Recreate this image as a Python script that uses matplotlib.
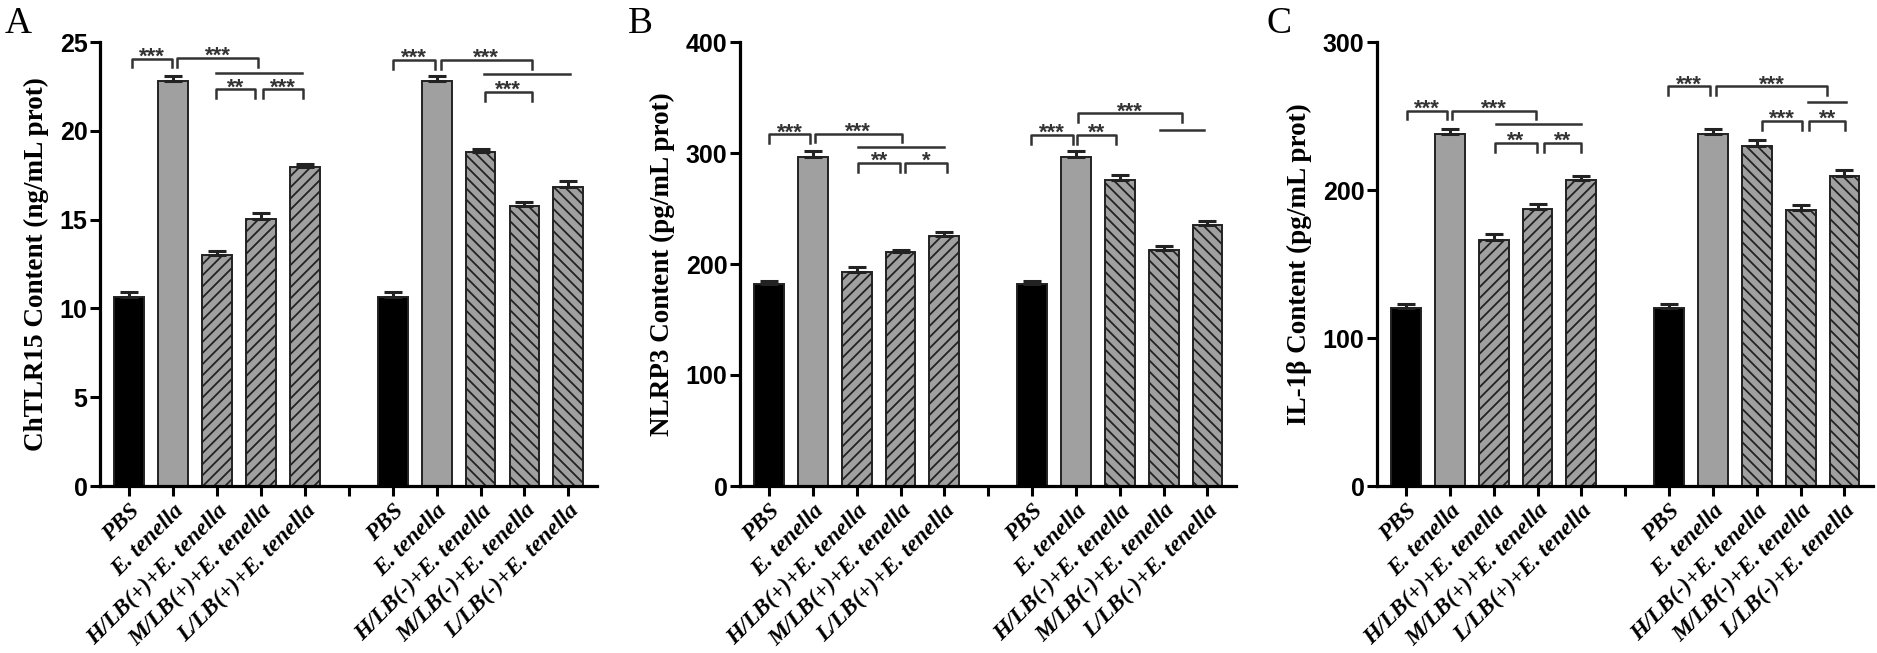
import matplotlib
matplotlib.use("Agg")
import matplotlib.pyplot as plt

plt.rcParams['hatch.linewidth'] = 1.3

labels = ["PBS", "E. tenella", "H/LB(+)+E. tenella", "M/LB(+)+E. tenella",
          "L/LB(+)+E. tenella", "",
          "PBS", "E. tenella", "H/LB(-)+E. tenella", "M/LB(-)+E. tenella",
          "L/LB(-)+E. tenella"]
pos = [0, 1, 2, 3, 4, 6, 7, 8, 9, 10]

tlr15 = [10.65, 22.8, 13.0, 15.05, 17.95, 10.65, 22.8, 18.8, 15.75, 16.85]
tlr15_err = [0.25, 0.3, 0.23, 0.33, 0.2, 0.25, 0.3, 0.2, 0.23, 0.31]

nlrp3 = [182, 296.5, 193, 210.5, 225.5, 182, 296.5, 275.5, 213, 235.5]
nlrp3_err = [3, 5, 4, 2, 3, 3, 5, 5, 3, 3.3]

il1b = [120, 238, 166.5, 187, 206.5, 120, 238, 230, 186.5, 209.5]
il1b_err = [2.7, 2.9, 4, 3.8, 3.2, 2.7, 2.9, 3.8, 3.1, 3.8]

# significance marks: x1, x2, y, text, with legs
sig_a = [(0.07, 0.98, 24.07, '***', True), (1.10, 2.94, 24.1, '***', True),
         (1.99, 3.93, 23.28, '', False), (1.99, 2.87, 22.35, '**', True),
         (3.04, 3.96, 22.35, '***', True),
         (6.0, 6.96, 24.0, '***', True), (7.09, 9.17, 24.0, '***', True),
         (8.07, 10.03, 23.2, '', False), (8.09, 9.17, 22.2, '***', True)]
sig_b = [(0.0, 0.94, 317, '***', True), (1.05, 3.03, 317.5, '***', True),
         (2.04, 4.0, 305, '', False), (2.04, 2.99, 291, '**', True),
         (3.1, 4.06, 291, '*', True),
         (5.98, 6.94, 316.3, '***', True), (7.02, 7.92, 316.3, '**', True),
         (7.05, 9.43, 335.7, '***', True), (8.92, 9.93, 320.8, '', False)]
sig_c = [(0.02, 0.93, 253.7, '***', True), (1.05, 2.96, 253.7, '***', True),
         (2.05, 4.0, 244.5, '', False), (2.03, 2.98, 231.9, '**', True),
         (3.14, 4.0, 231.9, '**', True),
         (5.97, 6.94, 270.1, '***', True), (7.06, 9.61, 270.1, '***', True),
         (9.16, 10.04, 259.3, '', False), (8.12, 9.04, 246.7, '***', True),
         (9.19, 10.02, 246.7, '**', True)]

fills = ['black', '#a0a0a0', '#a0a0a0', '#a0a0a0', '#a0a0a0',
         'black', '#a0a0a0', '#a0a0a0', '#a0a0a0', '#a0a0a0']
hatches = ['', '', '///', '///', '///', '', '', '\\\\\\', '\\\\\\', '\\\\\\']

serif = 'Liberation Serif'
sans = 'Liberation Sans'


def panel(ax, vals, errs, sig, ymax, step, ylabel, letter, lx):
    for p, v, e, f, h in zip(pos, vals, errs, fills, hatches):
        ax.bar(p, v, width=0.68, color=f, edgecolor='#222222', linewidth=1.4,
               hatch=h, zorder=2)
        ax.errorbar(p, v, yerr=[[0], [e]], color='#222222', capsize=6.5,
                    elinewidth=2.2, capthick=2.2, zorder=3)
    leg = ymax * 0.02
    for x1, x2, y, t, legs in sig:
        if legs:
            ax.plot([x1, x1, x2, x2], [y - leg, y, y, y - leg], color='#333333',
                    lw=1.8, clip_on=False)
        else:
            ax.plot([x1, x2], [y, y], color='#333333', lw=1.8, clip_on=False)
        if t:
            ax.annotate(t, xy=((x1 + x2) / 2, y), xytext=(0, -3),
                        textcoords='offset points', ha='center', va='baseline',
                        fontsize=16, family=sans, fontweight='bold',
                        color='#333333', annotation_clip=False)
    ax.set_ylim(0, ymax)
    ax.set_xlim(-0.66, 10.65)
    ax.set_yticks(range(0, ymax + 1, step))
    ax.set_xticks(range(11))
    ax.set_xticklabels(labels, rotation=45, ha='right', rotation_mode='anchor',
                       family=serif, fontweight='bold', fontstyle='italic',
                       fontsize=16.8)
    for t in ax.get_yticklabels():
        t.set_family(sans)
        t.set_fontweight('bold')
        t.set_fontsize(18)
    ax.spines['top'].set_visible(False)
    ax.spines['right'].set_visible(False)
    ax.spines['left'].set_linewidth(2.3)
    ax.spines['bottom'].set_linewidth(2.3)
    ax.tick_params(axis='both', width=2.2, length=7, direction='out', pad=2)
    ax.tick_params(axis='x', pad=3)
    ax.set_ylabel(ylabel, family=serif, fontweight='bold', fontsize=19.5,
                  labelpad=8)
    fig.text(lx, 0.99, letter, family=serif, fontsize=27, va='top', ha='left')


W, H = 1877, 653
fig = plt.figure(figsize=(W / 100, H / 100), dpi=100)
axA = fig.add_axes([100 / W, 167 / H, 497 / W, 444 / H])
axB = fig.add_axes([740 / W, 167 / H, 496 / W, 444 / H])
axC = fig.add_axes([1377 / W, 167 / H, 496 / W, 444 / H])

panel(axA, tlr15, tlr15_err, sig_a, 25, 5, "ChTLR15 Content (ng/mL prot)", "A", 5 / W)
panel(axB, nlrp3, nlrp3_err, sig_b, 400, 100, "NLRP3 Content (pg/mL prot)", "B", 628 / W)
panel(axC, il1b, il1b_err, sig_c, 300, 100, "IL-1\u03b2 Content (pg/mL prot)", "C", 1266 / W)

fig.savefig("out.png", dpi=100)
